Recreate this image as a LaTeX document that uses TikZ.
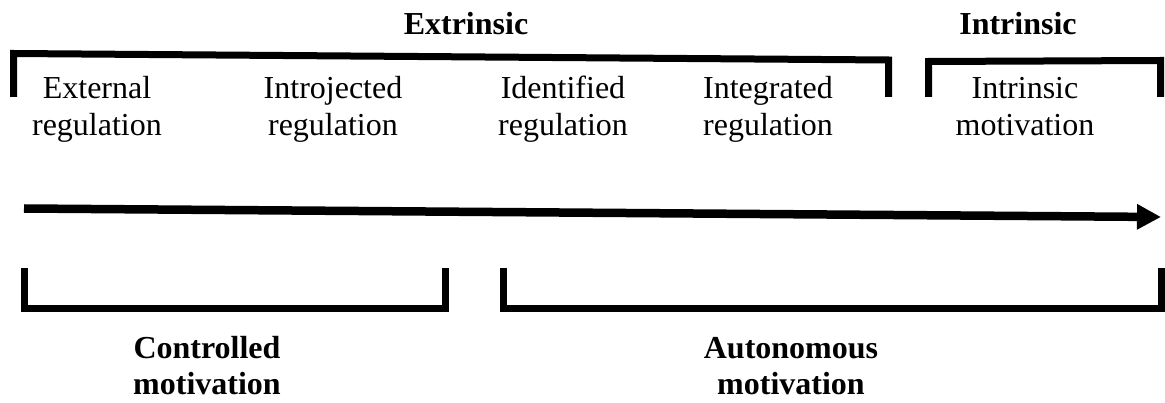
\documentclass[tikz,border=0pt]{standalone}
\usepackage{fontspec}
\setmainfont{Liberation Serif}
\usetikzlibrary{arrows.meta}
\begin{document}
\begin{tikzpicture}[x=1pt,y=-1pt,
  bracket/.style={line width=7pt, line join=miter},
  label/.style={anchor=base, inner sep=0pt, align=center, font=\fontsize{32}{37}\selectfont},
  heading/.style={label, font=\fontsize{32}{36}\selectfont\bfseries}]
\useasboundingbox (0,0) rectangle (1165,403);

% group headings
\node[heading] (extr) at (466,35) {Extrinsic};
\node[heading] (intr) at (1018,35) {Intrinsic};

% regulation types (base anchor sits on the last line)
\node[label] (ext) at (97,136) {External\\regulation};
\node[label] (ij) at (333,136) {Introjected\\regulation};
\node[label] (id) at (563,136) {Identified\\regulation};
\node[label] (ig) at (768,136) {Integrated\\regulation};
\node[label] (im) at (1025,136) {Intrinsic\\motivation};

% upper brackets
\draw[bracket] (13.5,97) -- (13.5,53.5) -- (888.5,60) -- (888.5,97);
\draw[bracket] (928.5,97) -- (928.5,61.5) -- (1160.5,60.5) -- (1160.5,97);

% continuum arrow
\coordinate (start) at (24,208.5);
\coordinate (end) at (1161,217);
\draw[line width=8.5pt, -{Triangle[length=24pt,width=24pt]}] (start) -- (end);

% lower brackets
\draw[bracket] (24.5,268) -- (24.5,309) -- (445.5,309) -- (445.5,268);
\draw[bracket] (503,268) -- (503,309) -- (1161.5,309) -- (1161.5,268);

% motivation types
\node[heading] (ctrl) at (207,395) {Controlled\\motivation};
\node[heading] (auto) at (791,395) {Autonomous\\motivation};
\end{tikzpicture}
\end{document}
